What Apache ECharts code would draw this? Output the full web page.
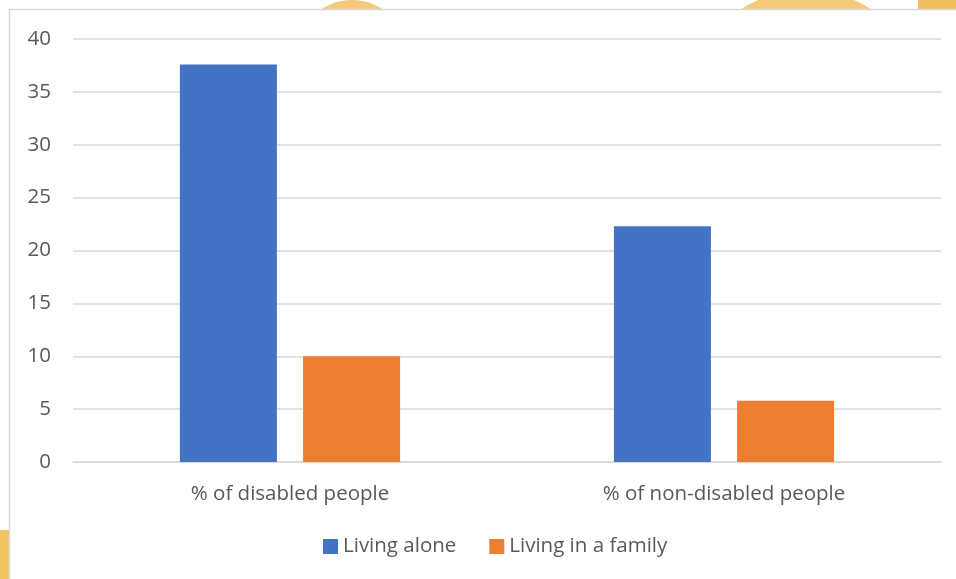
<!DOCTYPE html>
<html><head><meta charset="utf-8">
<script src="https://cdn.jsdelivr.net/npm/echarts@6/dist/echarts.min.js"></script>
<style>html,body{margin:0;padding:0;background:#fff}#c{width:956px;height:579px}</style>
</head><body><div id="c"></div>
<script>
const categories = ['% of disabled people', '% of non-disabled people'];
const seriesNames = ['Living alone', 'Living in a family'];
const livingAlone = [37.6, 22.3];
const livingFamily = [10.0, 5.8];
const yTicks = { min: 0, max: 40, interval: 5 };

const FONT = 'Open Sans';
const TXT = '#595959';
const FS = 20.5;
const chart = echarts.init(document.getElementById('c'), null, { renderer: 'canvas' });
chart.setOption({
  backgroundColor: '#ffffff',
  animation: false,
  textStyle: { fontFamily: FONT },
  graphic: [
    { type: 'circle', shape: { cx: 352, cy: 55, r: 55 }, style: { fill: '#F3C46A', opacity: 0.9 }, z: -10 },
    { type: 'circle', shape: { cx: 806, cy: 110, r: 120 }, style: { fill: '#F3C46A', opacity: 0.9 }, z: -10 },
    { type: 'rect', shape: { x: 918, y: 0, width: 38, height: 12 }, style: { fill: '#F1BE5C' }, z: -10 },
    { type: 'rect', shape: { x: 0, y: 530, width: 10, height: 49 }, style: { fill: '#F1C462' }, z: -10 },
    { type: 'rect', shape: { x: 9.5, y: 9.5, width: 960, height: 600 }, style: { fill: '#ffffff', stroke: '#D9D9D9', lineWidth: 1.5 }, z: -5 }
  ],
  grid: { left: 73, right: 15, top: 39, bottom: 117, containLabel: false },
  legend: {
    data: seriesNames,
    bottom: 17,
    left: 318,
    itemWidth: 15,
    itemHeight: 15,
    itemGap: 33,
    icon: 'rect',
    textStyle: { color: TXT, fontSize: FS, fontFamily: FONT }
  },
  xAxis: {
    type: 'category',
    data: categories,
    axisLine: { show: true, lineStyle: { color: '#D9D9D9', width: 1.5 } },
    axisTick: { show: false },
    axisLabel: { color: TXT, fontSize: FS, fontFamily: FONT, margin: 22 }
  },
  yAxis: {
    type: 'value',
    min: yTicks.min, max: yTicks.max, interval: yTicks.interval,
    axisLine: { show: false },
    axisTick: { show: false },
    axisLabel: { color: TXT, fontSize: FS, fontFamily: FONT, margin: 22 },
    splitLine: { lineStyle: { color: '#D9D9D9', width: 1.5 } }
  },
  series: [
    { name: seriesNames[0], type: 'bar', data: livingAlone, barWidth: '22.35%', barGap: '27%', itemStyle: { color: '#4472C4' } },
    { name: seriesNames[1], type: 'bar', data: livingFamily, barWidth: '22.35%', itemStyle: { color: '#ED7D31' } }
  ]
});
</script></body></html>
